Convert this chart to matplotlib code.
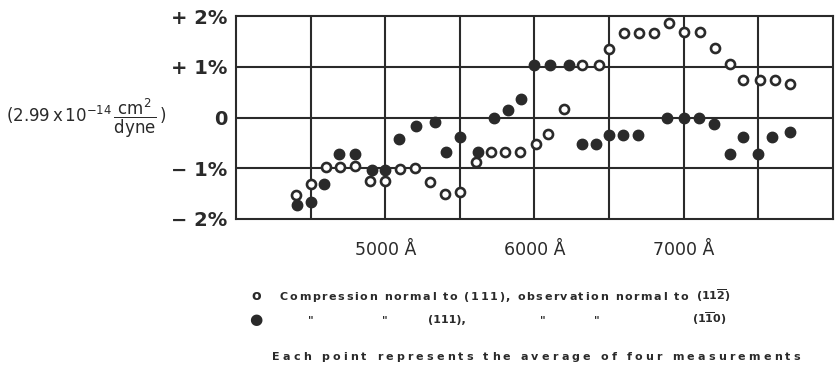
import numpy as np
import matplotlib
matplotlib.use("Agg")
import matplotlib.pyplot as plt
from matplotlib.font_manager import FontProperties

plt.rcParams['font.family'] = ['DejaVu Sans']
plt.rcParams['mathtext.fontset'] = 'dejavusans'

# wavelength in Angstrom, shift in % of 2.99e-14 cm^2/dyne
wl_open = [4400, 4500, 4600, 4700, 4800, 4900, 5000, 5100, 5200, 5300, 5400, 5500,
           5610, 5710, 5800, 5900, 6010, 6090, 6200, 6320, 6430, 6500, 6600, 6700,
           6800, 6900, 7000, 7110, 7210, 7310, 7400, 7510, 7610, 7715]
val_open = [-1.52, -1.31, -0.98, -0.98, -0.96, -1.26, -1.26, -1.01, -1.0, -1.28, -1.5, -1.47,
            -0.87, -0.68, -0.68, -0.68, -0.52, -0.32, 0.17, 1.03, 1.03, 1.34, 1.67, 1.67,
            1.67, 1.87, 1.68, 1.68, 1.36, 1.05, 0.73, 0.73, 0.74, 0.66]

wl_fill = [4410, 4505, 4590, 4690, 4795, 4910, 5000, 5090, 5205, 5330, 5410, 5500,
           5620, 5730, 5825, 5910, 6000, 6105, 6230, 6315, 6415, 6500, 6595, 6695,
           6890, 7000, 7105, 7205, 7310, 7400, 7495, 7590, 7710]
val_fill = [-1.72, -1.66, -1.31, -0.72, -0.72, -1.04, -1.04, -0.43, -0.17, -0.08, -0.68, -0.38,
            -0.68, 0.0, 0.14, 0.37, 1.03, 1.03, 1.03, -0.52, -0.52, -0.34, -0.34, -0.34,
            -0.01, -0.01, 0.0, -0.12, -0.71, -0.39, -0.71, -0.39, -0.29]

yticks = [2, 1, 0, -1, -2]
ylabels = ['+ 2%', '+ 1%', '0', '\u2212 1%', '\u2212 2%']
xlabels = {5000: '5000 \u00c5', 6000: '6000 \u00c5', 7000: '7000 \u00c5'}

ink = '#2a2a2a'
W, H = 836, 370
fig = plt.figure(figsize=(W/100, H/100), dpi=100)
ax = fig.add_axes([236/W, 1 - 219/H, 597/W, 203/H])

ax.set_xlim(4000, 8000)
ax.set_ylim(-2, 2)
for x in np.arange(4500, 8000, 500):
    ax.axvline(x, color=ink, lw=1.5, zorder=1)
for y in [-1, 0, 1]:
    ax.axhline(y, color=ink, lw=1.5, zorder=1)
for s in ax.spines.values():
    s.set_color(ink)
    s.set_linewidth(1.5)

ax.plot(wl_open, val_open, 'o', ms=6.5, mfc='white', mec=ink, mew=1.9, zorder=3)
ax.plot(wl_fill, val_fill, 'o', ms=7.5, mfc=ink, mec=ink, zorder=3)

ax.set_yticks(yticks)
ax.set_yticklabels(ylabels, fontsize=14, fontweight='bold', color=ink)
ax.set_xticks(list(xlabels.keys()))
ax.set_xticklabels(list(xlabels.values()), fontsize=12.5, color=ink)
ax.tick_params(length=0)
ax.tick_params(axis='y', pad=6)
ax.tick_params(axis='x', pad=16)

fig.text(6/W, 1 - 118/H,
         r'$(2.99\,\mathrm{x}\,10^{-14}\,\dfrac{\mathrm{cm}^2}{\mathrm{dyne}}\,)$',
         fontsize=12, color=ink, ha='left', va='center')

# letter-spaced text so a line spans from x0 to x1 (pixels)
renderer = fig.canvas.get_renderer()
prop = FontProperties(family='DejaVu Sans', weight='bold', size=8)


def tracked(s, x0, x1, ybase):
    widths = [renderer.get_text_width_height_descent(ch, prop, ismath=False)[0] for ch in s]
    extra = (x1 - x0 - sum(widths)) / (len(s) - 1)
    x = x0
    for ch, w in zip(s, widths):
        if ch != ' ':
            fig.text(x/W, 1 - ybase/H, ch, fontproperties=prop, color=ink,
                     ha='left', va='baseline')
        x += w + extra


# legend
fig.text(256/W, 1 - 296/H, 'o', fontsize=10, fontweight='bold', color=ink, ha='center', va='center')
fig.text(256/W, 1 - 319/H, '\u25cf', fontsize=11, color=ink, ha='center', va='center')
tracked('Compression normal to (111), observation normal to', 280, 688, 300)
fig.text(696/W, 1 - 300/H, r'$\mathbf{(11\overline{2})}$', fontsize=8, color=ink,
         ha='left', va='baseline')
row2 = [(308, '"'), (382, '"'), (428, '(111),'), (540, '"'), (594, '"'),
        (692, r'$\mathbf{(1\overline{1}0)}$')]
for x, t in row2:
    fig.text(x/W, 1 - 323/H, t, fontsize=8, fontweight='bold', color=ink, ha='left', va='baseline')
tracked('Each point represents the average of four measurements', 272, 800, 360)

fig.savefig('out.png', dpi=100)
